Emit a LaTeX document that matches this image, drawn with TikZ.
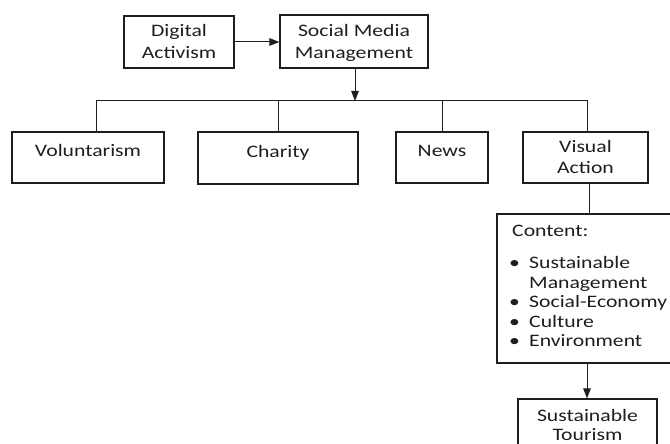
\documentclass[tikz,border=0pt]{standalone}
\usepackage{fontspec}
\setmainfont{Carlito}[FakeStretch=1.24]
\usetikzlibrary{arrows.meta}
\definecolor{ln}{RGB}{30,30,30}
\definecolor{tx}{RGB}{30,30,30}
\tikzset{
  box/.style={draw=ln, line width=1.1pt, rectangle, inner sep=0pt, text=tx, align=center, anchor=base},
  f215/.style={font=\fontsize{17.5}{21.5}\selectfont},
  f21/.style={font=\fontsize{17.5}{21}\selectfont},
  f19/.style={font=\fontsize{17.5}{19}\selectfont},
  conn/.style={draw=ln, line width=1pt},
  arr/.style={conn, -{Triangle[length=10pt,width=7.5pt]}}
}
\begin{document}
\begin{tikzpicture}[x=1pt,y=-1pt]
\useasboundingbox (0,0) rectangle (670,444);
\clip (0,0) rectangle (670,444);
% top row (base anchor = baseline of last line)
\node[box, f215, minimum width=110pt, text height=42.3pt, text depth=9.7pt] (da) at (179,58.3) {Digital\\Activism};
\node[box, f215, minimum width=148pt, text height=43.3pt, text depth=9.7pt] (smm) at (354,58.3) {Social Media\\Management};
% second row
\node[box, f215, minimum width=152pt, text height=25pt, text depth=26pt] (vol) at (88,157) {Voluntarism};
\node[box, f215, minimum width=160pt, text height=25.3pt, text depth=26.7pt] (cha) at (278,157.3) {Charity};
\node[box, f215, minimum width=92pt, text height=25pt, text depth=26pt] (news) at (442,157) {News};
\node[box, f21, minimum width=125pt, text height=41.5pt, text depth=9.5pt] (va) at (585.5,173.5) {Visual\\Action};
% content box
\node[draw=ln, line width=1.1pt, rectangle, inner sep=0pt, minimum width=203pt, minimum height=149pt] (content) at (598.5,288.5) {};
\node[anchor=north west, inner sep=0pt, text=tx, font=\fontsize{17.5}{19.6}\selectfont] (clist) at (512,223) {%
\begin{tabular}{@{}l@{}l@{}}
\multicolumn{2}{@{}l@{}}{Content:}\\[12pt]
\makebox[17pt][l]{\hspace{-3pt}•} & Sustainable\\
 & Management\\
\makebox[17pt][l]{\hspace{-3pt}•} & Social-Economy\\
\makebox[17pt][l]{\hspace{-3pt}•} & Culture\\
\makebox[17pt][l]{\hspace{-3pt}•} & Environment
\end{tabular}};
% bottom box
\node[box, f19, minimum width=139pt, text height=41pt, text depth=30pt] (st) at (587.5,440) {Sustainable\\Tourism};
% connectors
\coordinate (busL) at (96,101);
\coordinate (busR) at (587,101);
\coordinate (busM) at (355,101);
\draw[arr] (da.east |- 0,42) -- (smm.west |- 0,42);
\draw[arr] (smm.south -| busM) -- (busM);
\draw[conn] (vol.north -| busL) -- (busL) -- (busR) -- (va.north -| busR);
\draw[conn] (cha.north) -- (cha.north |- busL);
\draw[conn] (news.north) -- (news.north |- busL);
\draw[conn] ([xshift=3.5pt]va.south) -- ([xshift=3.5pt]va.south |- content.north);
\draw[arr] (content.south -| busR) -- (st.north -| busR);
\end{tikzpicture}
\end{document}
